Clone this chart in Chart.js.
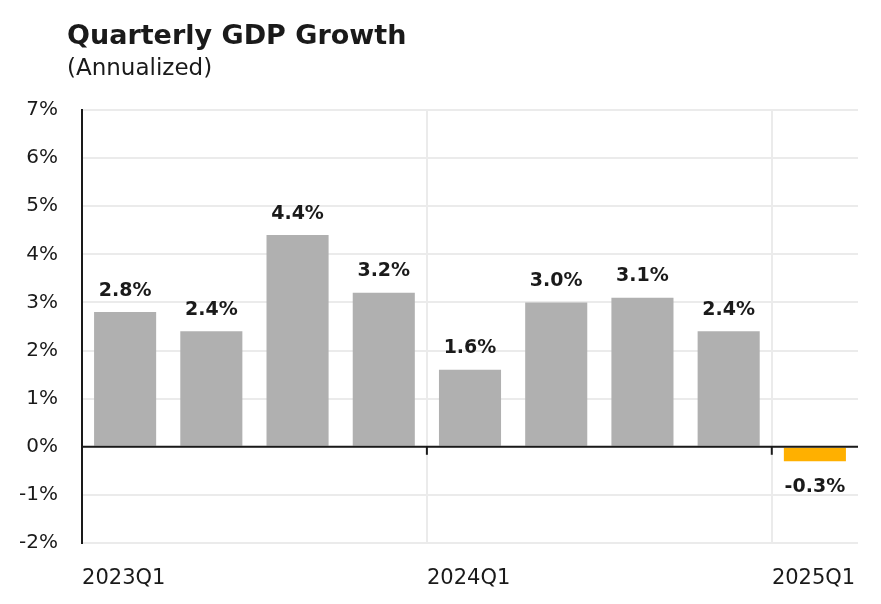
<!DOCTYPE html>
<html>
<head>
<meta charset="utf-8">
<script src="https://cdn.jsdelivr.net/npm/chart.js@4"></script>
<style>
html,body{margin:0;padding:0;background:#fff;}
#wrap{width:881px;height:604px;}
</style>
</head>
<body>
<div id="wrap"><canvas id="c" width="881" height="604"></canvas></div>
<script>
const categories = ['2023Q1','2023Q2','2023Q3','2023Q4','2024Q1','2024Q2','2024Q3','2024Q4','2025Q1'];
const growth = [2.8, 2.4, 4.4, 3.2, 1.6, 3.0, 3.1, 2.4, -0.3];
const labelEvery = 4;
const yTicks = [-2, -1, 0, 1, 2, 3, 4, 5, 6, 7];
const titleText = 'Quarterly GDP Growth';
const subtitleText = '(Annualized)';

const FONT = "'DejaVu Sans', 'Open Sans', sans-serif";
const GREY = '#b0b0b0';
const GOLD = '#ffb000';
const INK = '#1a1a1a';
const GRID = '#ebebeb';

const headerPlugin = {
  id: 'header',
  beforeDraw(chart) {
    const ctx = chart.ctx;
    ctx.save();
    ctx.fillStyle = INK;
    ctx.textAlign = 'left';
    ctx.textBaseline = 'alphabetic';
    ctx.font = "bold 27px " + FONT;
    ctx.fillText(titleText, 67, 44);
    ctx.font = "23px " + FONT;
    ctx.fillText(subtitleText, 67, 75);
    ctx.restore();
  }
};

const overlayPlugin = {
  id: 'overlay',
  afterDatasetsDraw(chart) {
    const ctx = chart.ctx;
    const x = chart.scales.x, y = chart.scales.y;
    const area = chart.chartArea;
    const y0 = y.getPixelForValue(0);
    ctx.save();
    ctx.strokeStyle = INK;
    ctx.lineWidth = 2;
    ctx.beginPath();
    ctx.moveTo(area.left, y0);
    ctx.lineTo(area.right, y0);
    ctx.stroke();
    for (let i = labelEvery; i < categories.length; i += labelEvery) {
      const bx = (x.getPixelForValue(i) + x.getPixelForValue(i - 1)) / 2;
      ctx.beginPath();
      ctx.moveTo(bx, y0);
      ctx.lineTo(bx, y0 + 8);
      ctx.stroke();
    }
    const meta = chart.getDatasetMeta(0);
    ctx.font = "bold 19px " + FONT;
    ctx.fillStyle = INK;
    ctx.textAlign = 'center';
    meta.data.forEach((bar, i) => {
      const v = growth[i];
      const txt = v.toFixed(1) + '%';
      if (v >= 0) {
        ctx.textBaseline = 'bottom';
        ctx.fillText(txt, bar.x, bar.y - 12);
      } else {
        ctx.textBaseline = 'top';
        ctx.fillText(txt, bar.x, bar.y + 16);
      }
    });
    ctx.restore();
  }
};

new Chart(document.getElementById('c'), {
  type: 'bar',
  data: {
    labels: categories,
    datasets: [{
      data: growth,
      backgroundColor: growth.map(v => v < 0 ? GOLD : GREY),
      borderWidth: 0,
      categoryPercentage: 1,
      barPercentage: 0.72
    }]
  },
  options: {
    responsive: false,
    animation: false,
    layout: { padding: { top: 110, right: 23, bottom: 0, left: 0 } },
    plugins: {
      legend: { display: false },
      tooltip: { enabled: false },
      title: { display: false }
    },
    scales: {
      x: {
        type: 'category',
        position: 'bottom',
        offset: true,
        grid: {
          offset: true,
          drawTicks: false,
          lineWidth: 2,
          color: (c) => (c.index % labelEvery === 0 ? GRID : 'rgba(0,0,0,0)')
        },
        border: { display: false },
        ticks: {
          autoSkip: false,
          maxRotation: 0,
          align: 'start',
          labelOffset: -43,
          padding: 23,
          color: INK,
          font: { family: FONT, size: 21 },
          callback: (v, i) => (i % labelEvery === 0 ? categories[i] : '')
        },
        afterFit: (s) => { s.height = 61; s.paddingLeft = 0; s.paddingRight = 0; }
      },
      y: {
        min: yTicks[0],
        max: yTicks[yTicks.length - 1],
        afterBuildTicks: (s) => { s.ticks = yTicks.map(v => ({ value: v })); },
        grid: {
          drawTicks: false,
          lineWidth: 2,
          color: GRID
        },
        border: { display: true, color: INK, width: 2 },
        ticks: {
          padding: 24,
          color: INK,
          font: { family: FONT, size: 20 },
          callback: (v) => v + '%'
        },
        afterFit: (s) => { s.width = 82; }
      }
    }
  },
  plugins: [headerPlugin, overlayPlugin]
});
</script>
</body>
</html>
